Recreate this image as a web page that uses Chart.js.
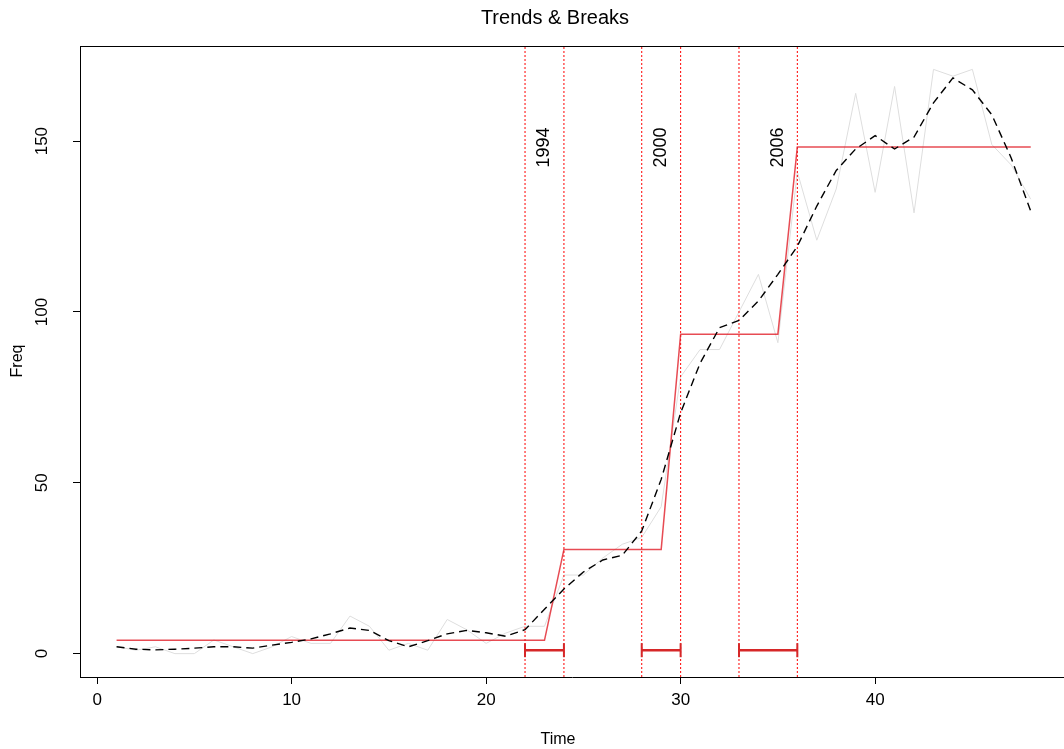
<!DOCTYPE html>
<html>
<head>
<meta charset="utf-8">
<script src="https://cdn.jsdelivr.net/npm/chart.js@4"></script>
<style>
  body { margin: 0; background: #fff; }
  canvas { display: block; }
</style>
</head>
<body>
<canvas id="trendChart" width="1064" height="749"></canvas>
<script>
// ===== Data =====
const timeIdx = [1,2,3,4,5,6,7,8,9,10,11,12,13,14,15,16,17,18,19,20,21,22,23,24,
                 25,26,27,28,29,30,31,32,33,34,35,36,37,38,39,40,41,42,43,44,45,46,47,48];
const freqRaw = [2,1,2,0,0,4,2,0,2,5,3,3,11,8,1,3,1,10,7,3,6,8,8,23,
                 23,28,32,34,43,81,89,89,100,111,91,141,121,136,164,135,166,129,171,169,171,149,143,133];
const freqSmooth = [2,1.3,1.1,1.3,1.6,2,2,1.6,2.5,3.3,4.3,5.8,7.5,6.8,3.8,2,3.8,5.8,6.8,6.1,5.1,7,13,18.9,
                    23.9,27.4,28.8,35.9,51,70.5,85,95.4,97.5,103.2,111,119.2,131,141.4,147.7,151.6,147.7,151.2,161.2,168.5,165,157.7,145,129.5];
const freqFitted = [3.9,3.9,3.9,3.9,3.9,3.9,3.9,3.9,3.9,3.9,3.9,3.9,3.9,3.9,3.9,3.9,3.9,3.9,3.9,3.9,3.9,3.9,3.9,
                    30.5,30.5,30.5,30.5,30.5,30.5,
                    93.5,93.5,93.5,93.5,93.5,93.5,
                    148.3,148.3,148.3,148.3,148.3,148.3,148.3,148.3,148.3,148.3,148.3,148.3,148.3];
const breakTimes = [23, 29, 35];
const breakLabels = ['1994', '2000', '2006'];
const ciLower = [22, 28, 33];
const ciUpper = [24, 30, 36];
const ciLevel = 1;
const xTicks = [0, 10, 20, 30, 40];
const yTicks = [0, 50, 100, 150];

// axis ranges (R style 4% extension)
const xMin = -0.88, xMax = 49.71;
const yMin = -6.84, yMax = 177.84;
const labelY = 154;

const FONT = "'Liberation Sans', Arial, sans-serif";
Chart.defaults.font.family = FONT;

const toXY = (ys) => timeIdx.map((t, i) => ({ x: t, y: ys[i] }));

// ===== Datasets =====
const datasets = [
    {
        label: 'smooth',
        data: toXY(freqSmooth),
        borderColor: '#000',
        borderWidth: 1.4,
        borderDash: [8, 5],
        pointRadius: 0
    },
    {
        label: 'fitted',
        data: toXY(freqFitted),
        borderColor: 'rgba(225,30,40,0.8)',
        borderWidth: 1.5,
        pointRadius: 0
    }
];

ciLower.forEach((lo, i) => {
    datasets.push({
        label: 'ci' + i,
        data: [{ x: lo, y: ciLevel }, { x: ciUpper[i], y: ciLevel }],
        borderColor: '#d62728',
        borderWidth: 2.5,
        pointStyle: 'line',
        pointRotation: 90,
        pointRadius: 7,
        pointBorderWidth: 2,
        pointBorderColor: '#d62728'
    });
});

[...ciLower, ...ciUpper].forEach((bx, i) => {
    datasets.push({
        label: 'vline' + i,
        data: [{ x: bx, y: yMin }, { x: bx, y: yMax }],
        borderColor: 'red',
        borderWidth: 1,
        borderDash: [2, 2],
        pointRadius: 0
    });
});

datasets.push({
    label: 'raw',
    data: toXY(freqRaw),
    borderColor: '#dedede',
    borderWidth: 1,
    pointRadius: 0
});

// ===== Text + frame =====
const textPlugin = {
    id: 'rText',
    afterDraw(chart) {
        const { ctx, chartArea, scales } = chart;
        ctx.save();
        ctx.strokeStyle = '#000';
        ctx.lineWidth = 1;
        ctx.beginPath();
        ctx.moveTo(chartArea.left, chartArea.top + 0.5);
        ctx.lineTo(chartArea.right, chartArea.top + 0.5);
        ctx.stroke();

        ctx.fillStyle = '#000';
        ctx.textAlign = 'center';
        ctx.textBaseline = 'middle';
        ctx.font = '20px ' + FONT;
        ctx.fillText('Trends & Breaks', 555, 18);

        ctx.font = '16px ' + FONT;
        ctx.fillText('Time', 558, 740);

        const vText = (txt, x, y, align) => {
            ctx.save();
            ctx.translate(x, y);
            ctx.rotate(-Math.PI / 2);
            ctx.textAlign = align;
            ctx.fillText(txt, 0, 0);
            ctx.restore();
        };
        vText('Freq', 18, 361, 'center');
        ctx.font = '17px ' + FONT;
        yTicks.forEach(v => vText(String(v), 42, scales.y.getPixelForValue(v), 'center'));

        ctx.font = '18px ' + FONT;
        breakTimes.forEach((bt, i) => {
            vText(breakLabels[i], scales.x.getPixelForValue(bt), scales.y.getPixelForValue(labelY), 'right');
        });
        ctx.restore();
    }
};

// ===== Chart =====
new Chart(document.getElementById('trendChart').getContext('2d'), {
    type: 'line',
    data: { datasets },
    options: {
        responsive: false,
        animation: false,
        devicePixelRatio: 1,
        layout: { autoPadding: false, padding: { top: 46, left: 0, right: 0, bottom: 0 } },
        plugins: { legend: { display: false }, tooltip: { enabled: false } },
        elements: { line: { tension: 0 } },
        scales: {
            x: {
                type: 'linear',
                min: xMin,
                max: xMax,
                afterBuildTicks: (s) => { s.ticks = xTicks.map(v => ({ value: v })); },
                afterFit: (s) => { s.height = 72; },
                grid: { drawOnChartArea: false, drawTicks: true, tickLength: 7, color: '#000' },
                border: { display: true, color: '#000', width: 1 },
                ticks: { font: { size: 17 }, color: '#000', padding: 6, maxRotation: 0 }
            },
            y: {
                type: 'linear',
                min: yMin,
                max: yMax,
                afterBuildTicks: (s) => { s.ticks = yTicks.map(v => ({ value: v })); },
                afterFit: (s) => { s.width = 80; },
                grid: { drawOnChartArea: false, drawTicks: true, tickLength: 7, color: '#000' },
                border: { display: true, color: '#000', width: 1 },
                ticks: { display: false }
            }
        }
    },
    plugins: [textPlugin]
});
</script>
</body>
</html>
